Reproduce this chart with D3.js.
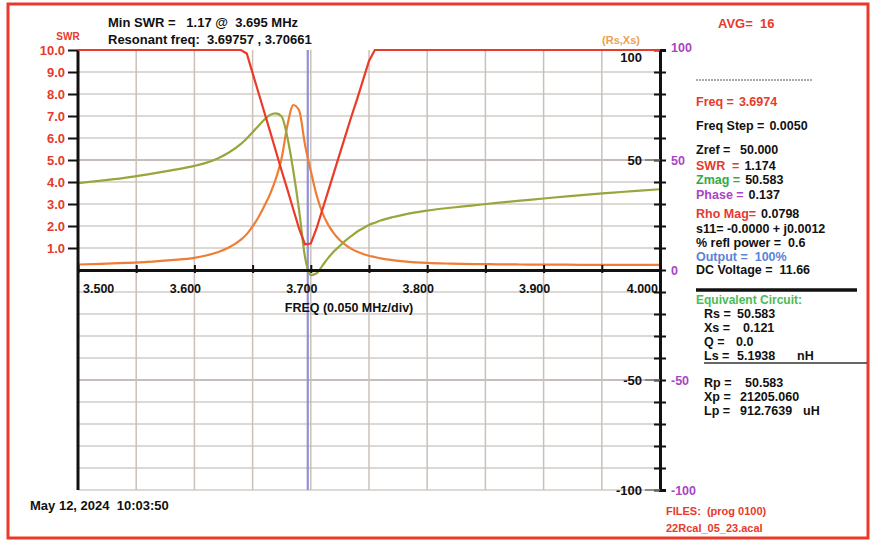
<!DOCTYPE html>
<html>
<head>
<meta charset="utf-8">
<script src="https://cdn.jsdelivr.net/npm/d3@7"></script>
<style>
  body { margin: 0; background: #fff; }
  svg { display: block; font-family: "Liberation Sans", Arial, sans-serif; font-weight: bold; }
  text { white-space: pre; }
</style>
</head>
<body>
<svg id="svg1" width="873" height="542"></svg>
<script>
// sweep data (MHz, SWR, Rs ohm, Xs ohm)
const freqs = [3.500, 3.520, 3.540, 3.560, 3.580, 3.600, 3.610, 3.620, 3.630, 3.640,
  3.645, 3.650, 3.655, 3.660, 3.665, 3.670, 3.675, 3.680, 3.685, 3.690,
  3.695, 3.700, 3.705, 3.710, 3.715, 3.720, 3.725, 3.730, 3.735, 3.740,
  3.745, 3.750, 3.755, 3.760, 3.770, 3.780, 3.790, 3.800, 3.820, 3.840,
  3.860, 3.880, 3.900, 3.920, 3.940, 3.960, 3.980, 4.000];
const swr = [10, 10, 10, 10, 10, 10, 10, 10, 10, 10,
  9.84, 8.95, 8.07, 7.18, 6.3, 5.4, 4.5, 3.64, 2.75, 1.87,
  1.17, 1.2, 1.9, 2.75, 3.6, 4.45, 5.3, 6.15, 7.0, 7.8,
  8.65, 9.5, 10, 10, 10, 10, 10, 10, 10, 10,
  10, 10, 10, 10, 10, 10, 10, 10];
const rs = [2.5, 2.8, 3.2, 3.7, 4.5, 5.5, 6.6, 8.1, 10.3, 13.8,
  16.3, 19.8, 24.0, 29.0, 34.5, 41.5, 51.0, 66.0, 75.0, 72.5,
  57.0, 45.0, 34.0, 26.0, 20.5, 16.5, 13.5, 11.3, 9.6, 8.3,
  7.3, 6.5, 5.9, 5.3, 4.5, 3.9, 3.5, 3.2, 2.9, 2.7,
  2.6, 2.5, 2.4, 2.4, 2.3, 2.3, 2.3, 2.3];
const xs = [39.5, 40.6, 41.9, 43.5, 45.3, 47.3, 48.7, 50.7, 53.5, 57.3,
  59.8, 62.6, 65.5, 68.3, 70.5, 71.2, 69.8, 60.0, 45.0, 27.0,
  6.0, -2.3, -1.5, 2.0, 5.5, 8.5, 11.0, 13.5, 15.5, 17.5,
  19.0, 20.5, 21.5, 22.5, 24.0, 25.2, 26.2, 27.0, 28.3, 29.4,
  30.5, 31.5, 32.5, 33.5, 34.4, 35.2, 36.0, 36.7];

const swrTicks = [1, 2, 3, 4, 5, 6, 7, 8, 9, 10];
const freqTicks = [3.5, 3.6, 3.7, 3.8, 3.9, 4.0];
const reactTicks = [100, 50, 0, -50, -100];
const innerTicks = [100, 50, -50, -100];
const cursorFreq = 3.6974;

const headerLines = ["Min SWR =   1.17 @  3.695 MHz", "Resonant freq:  3.69757 , 3.70661"];
const avgText = "AVG=  16";
const dateText = "May 12, 2024  10:03:50";
const fileLines = ["FILES:  (prog 0100)", "22Rcal_05_23.acal"];

// readout panel: [label, value]
const readout = [
  ["Freq =", "3.6974"],
  ["Freq Step =", "0.0050"],
  ["Zref =", "50.000"],
  ["SWR  =", "1.174"],
  ["Zmag =", "50.583"],
  ["Phase =", "0.137"],
  ["Rho Mag=", "0.0798"],
  ["s11= -0.0000 + j0.0012", ""],
  ["% refl power =  0.6", ""],
  ["Output =  100%", ""],
  ["DC Voltage =  11.66", ""]
];
// equivalent circuit: [label, value, unit]
const circuit = [
  ["Equivalent Circuit:", "", ""],
  ["Rs =", "50.583", ""],
  ["Xs =", "0.121", ""],
  ["Q =", "0.0", ""],
  ["Ls =", "5.1938", "nH"],
  ["Rp =", "50.583", ""],
  ["Xp =", "21205.060", ""],
  ["Lp =", "912.7639", "uH"]
];

// ---- colours / layout ----
const RED = "#e8392b", GREEN = "#33aa44", PURPLE = "#a944c4", BLUE = "#5b84d6", INK = "#111";
const readoutY = [101, 125, 149, 165, 179, 194, 213, 228, 242, 256, 269];
const readoutValX = [737, 768, 740, 740, 740, 744, 757, 0, 0, 0, 0];
const readoutColor = [[RED, RED], [INK, INK], [INK, INK], [RED, INK], [GREEN, INK],
  [PURPLE, INK], [RED, INK], [INK], [INK], [BLUE], [INK]];
const circuitY = [299, 313, 327, 341, 355, 382, 396, 410];
const circuitX = [696, 704, 704, 704, 704, 704, 704, 704];
const circuitValX = [0, 737, 743, 736, 737, 745, 740, 740];
const circuitUnitX = [0, 0, 0, 0, 797, 0, 0, 803];
const FS = 13;

const svg = d3.select("#svg1");

const x = d3.scaleLinear([3.5, 4.0], [78, 660]);
const ySwr = d3.scaleLinear([0, 10], [270, 50]);
const yR = d3.scaleLinear([-100, 100], [490, 50]);

// frame
svg.append("rect")
  .attr("x", 8).attr("y", 4).attr("width", 860).attr("height", 534)
  .attr("fill", "none").attr("stroke", RED).attr("stroke-width", 3);

// grid
const hGrid = d3.range(-100, 100, 10).filter(v => v !== 0);
const vGrid = d3.range(1, 10).map(i => 3.5 + i * 0.05);
svg.append("g").attr("class", "grid-h")
  .selectAll("line").data(hGrid).join("line")
  .attr("x1", 78).attr("x2", 660)
  .attr("y1", d => yR(d)).attr("y2", d => yR(d))
  .style("stroke", d => Math.abs(d) === 50 ? "#b3a9a3" : "#d3cbc6")
  .style("stroke-width", "1.5px");
svg.append("g").attr("class", "grid-v")
  .selectAll("line").data(vGrid).join("line")
  .attr("x1", d => x(d)).attr("x2", d => x(d))
  .attr("y1", 50).attr("y2", 490)
  .style("stroke", "#cbc0b9")
  .style("stroke-width", "1.5px");

// cursor
svg.append("line")
  .attr("x1", x(cursorFreq)).attr("x2", x(cursorFreq))
  .attr("y1", 50).attr("y2", 490)
  .attr("stroke", "#8e92d8").attr("stroke-width", 2.2);

// curves
const idx = d3.range(freqs.length);
const lineOf = (arr, y, curve) => d3.line().curve(curve).x(i => x(freqs[i])).y(i => y(arr[i]))(idx);
svg.append("path").attr("d", lineOf(rs, yR, d3.curveMonotoneX))
  .attr("fill", "none").attr("stroke", "#ef7d33").attr("stroke-width", 2.2);
svg.append("path").attr("d", lineOf(xs, yR, d3.curveMonotoneX))
  .attr("fill", "none").attr("stroke", "#98a63c").attr("stroke-width", 2.2);

// x axis
const xAxis = svg.append("g")
  .attr("transform", "translate(0,270)")
  .call(d3.axisBottom(x).tickValues(d3.range(0, 11).map(i => 3.5 + i * 0.05)).tickFormat("").tickSizeInner(3).tickSizeOuter(0));
xAxis.select(".domain").attr("stroke", INK).attr("stroke-width", 3);
xAxis.selectAll(".tick line").attr("y1", -5).attr("stroke", INK).attr("stroke-width", 2);

svg.selectAll(".xlab").data(freqTicks).join("text")
  .attr("x", (d, i) => x(d) + (i === 0 ? 5 : i === freqTicks.length - 1 ? -2 : -9))
  .attr("y", 293)
  .attr("text-anchor", (d, i) => i === 0 ? "start" : i === freqTicks.length - 1 ? "end" : "middle")
  .attr("font-size", 12.5).attr("fill", INK)
  .text(d3.format(".3f"));

svg.append("text").attr("x", 349).attr("y", 312).attr("text-anchor", "middle")
  .attr("font-size", 12.5).attr("fill", INK).text("FREQ (0.050 MHz/div)");

// SWR axis (left)
const swrAxis = svg.append("g")
  .attr("transform", "translate(78,0)")
  .call(d3.axisLeft(ySwr).tickValues(swrTicks).tickFormat(d3.format(".1f")).tickSize(10).tickPadding(3));
swrAxis.select(".domain").remove();
swrAxis.selectAll(".tick line").attr("stroke", INK).attr("stroke-width", 2);
swrAxis.selectAll(".tick text").attr("fill", RED).attr("font-size", FS).attr("font-family", null);
svg.append("line").attr("x1", 78).attr("x2", 78).attr("y1", 50).attr("y2", 490)
  .attr("stroke", INK).attr("stroke-width", 3);
svg.append("text").attr("x", 68).attr("y", 40).attr("text-anchor", "middle")
  .attr("font-size", 10).attr("fill", RED).text("SWR");

// reactance axis (right)
const rAxis = svg.append("g")
  .attr("transform", "translate(660,0)")
  .call(d3.axisRight(yR).tickValues(d3.range(-100, 101, 10))
    .tickFormat(d => reactTicks.includes(d) ? d : "").tickSize(6).tickPadding(5));
rAxis.select(".domain").attr("stroke", INK).attr("stroke-width", 3);
rAxis.selectAll(".tick line").attr("x1", -6).attr("stroke", INK).attr("stroke-width", 2);
rAxis.selectAll(".tick text").attr("fill", PURPLE).attr("font-size", 12.5).attr("font-family", null);
rAxis.selectAll(".tick").filter(d => d === 100).select("text").attr("dy", "0.15em");

svg.selectAll(".ilab").data(innerTicks).join("text")
  .attr("x", 642)
  .attr("y", d => yR(d) + (d === 100 ? 12 : 4.5))
  .attr("text-anchor", "end").attr("font-size", FS).attr("fill", INK)
  .text(d => d);
svg.selectAll(".ilink").data(innerTicks.filter(d => d !== 100)).join("line")
  .attr("x1", 645).attr("x2", 660)
  .attr("y1", d => yR(d)).attr("y2", d => yR(d))
  .attr("stroke", "#777").attr("stroke-width", 1.5);

// SWR on top
svg.append("path").attr("d", lineOf(swr, ySwr, d3.curveLinear))
  .attr("fill", "none").attr("stroke", "#ea3a2a").attr("stroke-width", 2.2);

// header texts
svg.selectAll(".hdr").data(headerLines).join("text")
  .attr("x", 108).attr("y", (d, i) => 27 + i * 17)
  .attr("font-size", FS).attr("fill", INK).text(d => d);
svg.append("text").attr("x", 640).attr("y", 44).attr("text-anchor", "end")
  .attr("font-size", 11).attr("fill", "#e9a255").text("(Rs,Xs)");
svg.append("text").attr("x", 718).attr("y", 28)
  .attr("font-size", FS).attr("fill", RED).text(avgText);

// readout panel, values pushed right if a label runs long
svg.append("line").attr("x1", 696).attr("x2", 812).attr("y1", 80).attr("y2", 80)
  .attr("stroke", "#555").attr("stroke-width", 1).attr("stroke-dasharray", "2,1");
const roLabels = svg.selectAll(".rol").data(readout).join("text")
  .attr("x", 696).attr("y", (d, i) => readoutY[i] + 4.5)
  .attr("font-size", 12.5).attr("fill", (d, i) => readoutColor[i][0])
  .text(d => d[0]);
const roEnd = roLabels.nodes().map(n => 696 + n.getComputedTextLength());
svg.selectAll(".rov").data(readout).join("text")
  .attr("x", (d, i) => Math.max(readoutValX[i], roEnd[i] + 5)).attr("y", (d, i) => readoutY[i] + 4.5)
  .attr("font-size", 12.5).attr("fill", (d, i) => readoutColor[i][1] || INK)
  .text(d => d[1]);

svg.append("line").attr("x1", 696).attr("x2", 857).attr("y1", 290).attr("y2", 290)
  .attr("stroke", INK).attr("stroke-width", 3.5);

const ecLabels = svg.selectAll(".ecl").data(circuit).join("text")
  .attr("x", (d, i) => circuitX[i]).attr("y", (d, i) => circuitY[i] + 4.5)
  .attr("font-size", (d, i) => i === 0 ? 12 : 12.5)
  .attr("fill", (d, i) => i === 0 ? "#4cbb55" : INK)
  .text(d => d[0]);
const ecEnd = ecLabels.nodes().map((n, i) => circuitX[i] + n.getComputedTextLength());
const ecVals = svg.selectAll(".ecv").data(circuit).join("text")
  .attr("x", (d, i) => Math.max(circuitValX[i], ecEnd[i] + 5)).attr("y", (d, i) => circuitY[i] + 4.5)
  .attr("font-size", 12.5).attr("fill", INK)
  .text(d => d[1]);
const valEnd = ecVals.nodes().map(n => +n.getAttribute("x") + n.getComputedTextLength());
svg.selectAll(".ecu").data(circuit).join("text")
  .attr("x", (d, i) => Math.max(circuitUnitX[i], valEnd[i] + 7)).attr("y", (d, i) => circuitY[i] + 4.5)
  .attr("font-size", 12.5).attr("fill", INK)
  .text(d => d[2]);
svg.append("line").attr("x1", 704).attr("x2", 867).attr("y1", 363).attr("y2", 363)
  .attr("stroke", "#333").attr("stroke-width", 1.3);

// footer
svg.append("text").attr("x", 30).attr("y", 510)
  .attr("font-size", FS).attr("fill", INK).text(dateText);
svg.selectAll(".files").data(fileLines).join("text")
  .attr("x", 666).attr("y", (d, i) => 515 + i * 17)
  .attr("font-size", 11).attr("fill", RED).text(d => d);
</script>
</body>
</html>
